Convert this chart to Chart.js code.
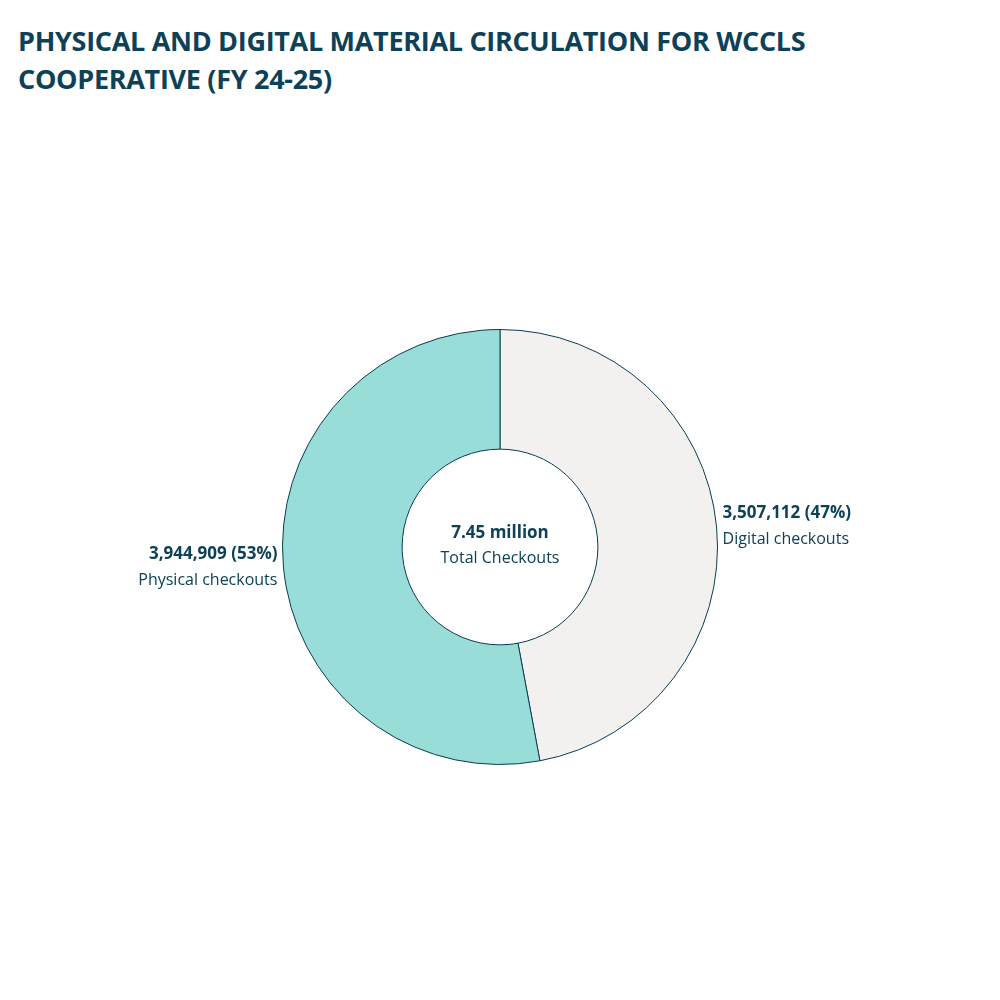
<!DOCTYPE html>
<html>
<head>
<meta charset="utf-8">
<script src="https://cdn.jsdelivr.net/npm/chart.js@4"></script>
<style>
  body { margin: 0; background: #fff; }
  #wrap { position: relative; width: 1000px; height: 1000px; }
  #title { position: absolute; left: 18px; top: 22px; width: 900px; font-family: "Open Sans", sans-serif;
           font-weight: bold; font-size: 27px; line-height: 38px; color: #0d4157; letter-spacing: -0.3px; }
  canvas { position: absolute; left: 0; top: 0; }
</style>
</head>
<body>
<div id="wrap">
  <div id="title">PHYSICAL AND DIGITAL MATERIAL CIRCULATION FOR WCCLS COOPERATIVE (FY 24-25)</div>
  <canvas id="chart" width="1000" height="1000"></canvas>
</div>
<script>
const categories = ["Digital checkouts", "Physical checkouts"];
const checkouts = [3507112, 3944909];
const colores = ["#f2f1f0", "#99ddd8"];
const textColor = "#0d4157";

const total = checkouts.reduce((a, b) => a + b, 0);

// Etiquetas junto a cada porción y texto central
const etiquetas = {
    id: "etiquetas",
    afterDraw(chart) {
        const ctx = chart.ctx;
        const arcs = chart.getDatasetMeta(0).data;
        ctx.save();
        ctx.fillStyle = textColor;
        ctx.textBaseline = "middle";
        arcs.forEach((arc, i) => {
            const ang = (arc.startAngle + arc.endAngle) / 2;
            const r = arc.outerRadius + 6;
            const x = arc.x + Math.cos(ang) * r;
            const y = arc.y + Math.sin(ang) * r;
            const left = Math.cos(ang) < 0;
            ctx.textAlign = left ? "right" : "left";
            const pct = Math.round(checkouts[i] / total * 100);
            ctx.font = "bold 17px 'Open Sans', sans-serif";
            ctx.fillText(checkouts[i].toLocaleString("en-US") + " (" + pct + "%)", x, y - 13);
            ctx.font = "16px 'Open Sans', sans-serif";
            ctx.fillText(categories[i], x, y + 13);
        });
        const cx = arcs[0].x, cy = arcs[0].y;
        ctx.textAlign = "center";
        ctx.font = "bold 17px 'Open Sans', sans-serif";
        ctx.fillText((total / 1e6).toFixed(2) + " million", cx, cy - 14);
        ctx.font = "16px 'Open Sans', sans-serif";
        ctx.fillText("Total Checkouts", cx, cy + 11);
        ctx.restore();
    }
};

new Chart(document.getElementById("chart"), {
    type: "doughnut",
    data: {
        labels: categories,
        datasets: [{
            data: checkouts,
            backgroundColor: colores,
            borderColor: "#0b3d52",
            borderWidth: 1
        }]
    },
    options: {
        responsive: false,
        animation: false,
        cutout: "45%",
        layout: { padding: { top: 329, bottom: 235, left: 282, right: 282 } },
        plugins: { legend: { display: false }, tooltip: { enabled: false } }
    },
    plugins: [etiquetas]
});
</script>
</body>
</html>
